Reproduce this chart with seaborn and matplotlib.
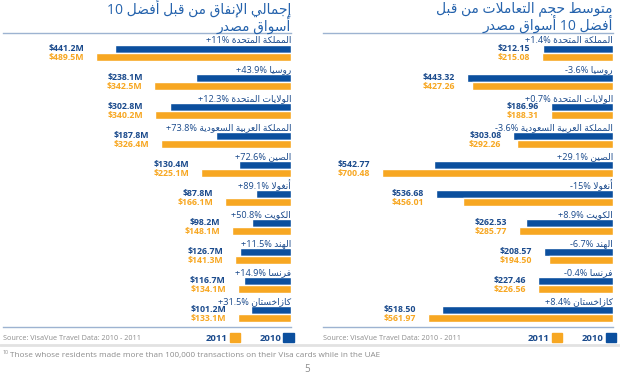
import re
import numpy as np
import pandas as pd
import seaborn as sns
import matplotlib.pyplot as plt
from matplotlib.patches import Patch
from matplotlib.lines import Line2D

# data
countries = ['المملكة المتحدة', 'روسيا', 'الولايات المتحدة', 'المملكة العربية السعودية',
             'الصين', 'أنغولا', 'الكويت', 'الهند', 'فرنسا', 'كازاخستان']
spend_2010 = [441.2, 238.1, 302.8, 187.8, 130.4, 87.8, 98.2, 126.7, 116.7, 101.2]
spend_2011 = [489.5, 342.5, 340.2, 326.4, 225.1, 166.1, 148.1, 141.3, 134.1, 133.1]
spend_pct = ['+11%', '+43.9%', '+12.3%', '+73.8%', '+72.6%', '+89.1%', '+50.8%', '+11.5%', '+14.9%', '+31.5%']
ticket_2010 = [212.15, 443.32, 186.96, 303.08, 542.77, 536.68, 262.53, 208.57, 227.46, 518.50]
ticket_2011 = [215.08, 427.26, 188.31, 292.26, 700.48, 456.01, 285.77, 194.50, 226.56, 561.97]
ticket_pct = ['+1.4%', '-3.6%', '+0.7%', '-3.6%', '+29.1%', '-15%', '+8.9%', '-6.7%', '-0.4%', '+8.4%']
years = ['2010', '2011']

BLUE = '#0b4f9e'
ORANGE = '#f7a722'
DARK = '#1a4a8c'
TITLE = '#2462ac'
GRAY = '#8c8c8c'
LINE = '#9db3d1'

# matplotlib has no arabic shaping, so do it by hand
FORMS = {'ء': (0xFE80, 1), 'آ': (0xFE81, 2), 'أ': (0xFE83, 2), 'ؤ': (0xFE85, 2), 'إ': (0xFE87, 2),
         'ئ': (0xFE89, 4), 'ا': (0xFE8D, 2), 'ب': (0xFE8F, 4), 'ة': (0xFE93, 2), 'ت': (0xFE95, 4),
         'ث': (0xFE99, 4), 'ج': (0xFE9D, 4), 'ح': (0xFEA1, 4), 'خ': (0xFEA5, 4), 'د': (0xFEA9, 2),
         'ذ': (0xFEAB, 2), 'ر': (0xFEAD, 2), 'ز': (0xFEAF, 2), 'س': (0xFEB1, 4), 'ش': (0xFEB5, 4),
         'ص': (0xFEB9, 4), 'ض': (0xFEBD, 4), 'ط': (0xFEC1, 4), 'ظ': (0xFEC5, 4), 'ع': (0xFEC9, 4),
         'غ': (0xFECD, 4), 'ف': (0xFED1, 4), 'ق': (0xFED5, 4), 'ك': (0xFED9, 4), 'ل': (0xFEDD, 4),
         'م': (0xFEE1, 4), 'ن': (0xFEE5, 4), 'ه': (0xFEE9, 4), 'و': (0xFEED, 2), 'ى': (0xFEEF, 2),
         'ي': (0xFEF1, 4)}
LAM_ALEF = {'آ': 0xFEF5, 'أ': 0xFEF7, 'إ': 0xFEF9, 'ا': 0xFEFB}


def shape(s):
    out = []
    i = 0
    joins = False
    while i < len(s):
        c = s[i]
        if c not in FORMS:
            out.append(c)
            joins = False
            i += 1
            continue
        if c == 'ل' and i + 1 < len(s) and s[i + 1] in LAM_ALEF:
            out.append(chr(LAM_ALEF[s[i + 1]] + (1 if joins else 0)))
            joins = False
            i += 2
            continue
        base, k = FORMS[c]
        nxt = i + 1 < len(s) and s[i + 1] in FORMS
        if k == 4:
            f = 3 if (joins and nxt) else 1 if joins else 2 if nxt else 0
        elif k == 2:
            f = 1 if joins else 0
        else:
            f = 0
        out.append(chr(base + f))
        joins = k == 4
        i += 1
    return ''.join(out)


def ar(text):
    parts = re.split(r'([0-9][0-9.,]*)', shape(text))
    return ''.join(p if re.match(r'[0-9]', p) else p[::-1] for p in reversed(parts) if p)


sns.set_style('white')
plt.rcParams['font.family'] = ['Open Sans', 'DejaVu Sans']

W, H = 620, 375
fig = plt.figure(figsize=(6.2, 3.75), dpi=100)


def panel(x0, x1, xmax, v10, v11, pct, fmt, title1, title2):
    ax = fig.add_axes([x0 / W, 1 - 327 / H, (x1 - x0) / W, 294 / H])
    df = pd.DataFrame({'country': countries * 2,
                       'year': ['2010'] * 10 + ['2011'] * 10,
                       'value': v10 + v11})
    sns.barplot(data=df, x='value', y='country', hue='year', hue_order=years,
                palette=[BLUE, ORANGE], orient='h', width=0.6, gap=0.06,
                saturation=1, legend=False, ax=ax)
    ax.set_xlim(xmax, 0)
    ax.set_ylim(9.45, -0.69)
    ax.set_xlabel('')
    ax.set_ylabel('')
    ax.set_xticks([])
    ax.set_yticks([])
    for s in ['left', 'right']:
        ax.spines[s].set_visible(False)
    for s in ['top', 'bottom']:
        ax.spines[s].set_color(LINE)
        ax.spines[s].set_linewidth(1.0)

    bars10, bars11 = ax.containers[0], ax.containers[1]
    for i in range(len(countries)):
        b1, b2 = bars10[i], bars11[i]
        far = max(b1.get_width(), b2.get_width())
        for b, v, col in [(b1, v10[i], DARK), (b2, v11[i], ORANGE)]:
            ax.annotate(fmt(v), xy=(far, b.get_y() + b.get_height() / 2),
                        xytext=(-8.5, 0), textcoords='offset points',
                        ha='right', va='center', fontsize=6.3, fontweight='bold', color=col)
        ax.text(0, b1.get_y() - 0.14, pct[i] + ' ' + ar(countries[i]),
                ha='right', va='center', fontsize=6.6, color=DARK)

    leg = ax.legend(handles=[Patch(color=ORANGE), Patch(color=BLUE)], labels=['2011', '2010'],
                    ncol=2, markerfirst=False, frameon=False, loc='center right',
                    bbox_to_anchor=(1.01, -11 / 294), prop={'weight': 'bold', 'size': 6.8},
                    handlelength=1.1, handleheight=1.1, handletextpad=0.25,
                    columnspacing=2.0, borderpad=0, borderaxespad=0)
    for t in leg.get_texts():
        t.set_color(DARK)
    ax.text(0, -11 / 294, 'Source: VisaVue Travel Data: 2010 - 2011', transform=ax.transAxes,
            ha='left', va='center', fontsize=5.2, color=GRAY)

    fig.text(x1 / W, 1 - 17 / H, ar(title1) + '\n' + ar(title2), ha='right', va='center',
             multialignment='right', linespacing=0.95, fontsize=10, color=TITLE)
    return ax


panel(3, 291, 722, spend_2010, spend_2011, spend_pct, lambda v: f'${v:.1f}M',
      'إجمالي الإنفاق من قبل أفضل 10', 'أسواق مصدر')
panel(323, 613, 879, ticket_2010, ticket_2011, ticket_pct, lambda v: f'${v:.2f}',
      'متوسط حجم التعاملات من قبل', 'أفضل 10 أسواق مصدر')

fig.add_artist(Line2D([0, 1], [1 - 345 / H] * 2, transform=fig.transFigure, color='#e2e2e2', lw=2))
fig.text(3 / W, 1 - 353 / H, '10', fontsize=3.8, color=GRAY, va='center')
fig.text(10 / W, 1 - 356 / H,
         'Those whose residents made more than 100,000 transactions on their Visa cards while in the UAE',
         fontsize=5.9, color=GRAY, va='center')
fig.text(307 / W, 1 - 369 / H, '5', fontsize=7, color=GRAY, ha='center', va='center')

fig.savefig('out.png', dpi=100)
